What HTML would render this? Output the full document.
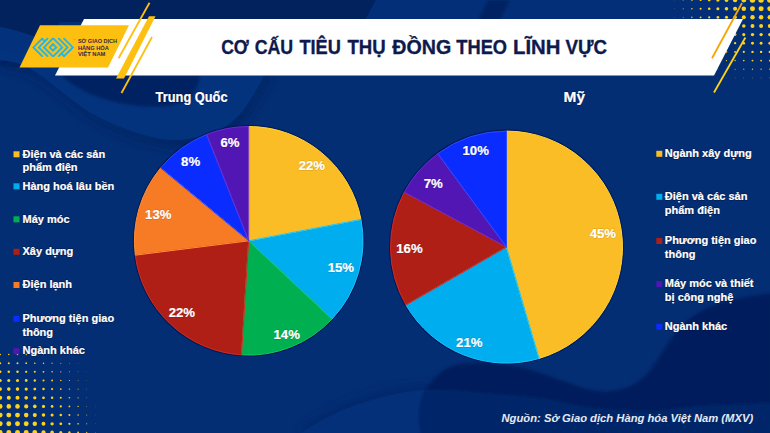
<!DOCTYPE html>
<html><head><meta charset="utf-8"><style>
html,body{margin:0;padding:0;width:770px;height:433px;overflow:hidden;background:#03286B;}
svg{display:block;font-family:"Liberation Sans",sans-serif;}
</style></head><body>
<svg width="770" height="433" viewBox="0 0 770 433">
<defs>
<linearGradient id="bg" x1="0" y1="0" x2="1" y2="1">
<stop offset="0" stop-color="#03245F"/><stop offset="0.5" stop-color="#042C72"/><stop offset="1" stop-color="#021C58"/>
</linearGradient>
</defs>
<rect width="770" height="433" fill="#032E73"/>
<!-- waves -->
<filter id="bl4" x="-20%" y="-20%" width="140%" height="140%"><feGaussianBlur stdDeviation="5"/></filter>
<filter id="bl2" x="-20%" y="-20%" width="140%" height="140%"><feGaussianBlur stdDeviation="1.5"/></filter>
<path d="M0,0 H376 C372,8 368,15 364,22 H60 L50,42 C38,38 18,30 0,27 Z" fill="#02225E"/>
<path d="M0,27 C18,30 38,38 50,42 L40,64 C25,61 12,59 0,59 Z" fill="#03317B"/>
<path d="M0,59 C12,59 25,61 40,64 L44,72 C30,68 15,66 0,66 Z" fill="#022466" filter="url(#bl2)"/>
<path d="M3.0,67.0 C6.5,67.8 17.1,68.8 24.0,71.5 C30.9,74.2 37.8,78.4 44.6,83.0 C51.4,87.6 58.1,93.7 65.0,99.0 C71.9,104.3 79.7,110.7 86.0,115.0 C92.3,119.3 97.2,122.0 103.0,125.0 C108.8,128.0 113.7,130.2 121.0,133.0 C128.3,135.8 138.3,139.7 147.0,142.0 C155.7,144.3 164.3,146.6 173.0,147.0 C181.7,147.4 190.3,146.4 199.0,144.5 C207.7,142.6 217.7,139.3 225.0,135.4 C232.3,131.5 238.0,126.2 243.0,121.0 C248.0,115.8 251.0,110.3 255.0,104.0 C259.0,97.7 265.0,86.5 267.0,83.0  L272,76 L264.0,76.0 L252.0,97.0 L240.0,114.0 L222.0,128.4 L196.0,137.5 L170.0,140.0 L144.0,135.0 L118.0,126.0 L100.0,118.0 L83.0,108.0 L62.0,92.0 L41.6,76.0 L21.0,64.5 L0.0,60.0 Z" fill="#01225F" filter="url(#bl4)" opacity="0.9"/>
<path d="M0.0,60.0 C3.5,60.8 14.1,61.8 21.0,64.5 C27.9,67.2 34.8,71.4 41.6,76.0 C48.4,80.6 55.1,86.7 62.0,92.0 C68.9,97.3 76.7,103.7 83.0,108.0 C89.3,112.3 94.2,115.0 100.0,118.0 C105.8,121.0 110.7,123.2 118.0,126.0 C125.3,128.8 135.3,132.7 144.0,135.0 C152.7,137.3 161.3,139.6 170.0,140.0 C178.7,140.4 187.3,139.4 196.0,137.5 C204.7,135.6 214.7,132.3 222.0,128.4 C229.3,124.5 235.0,119.2 240.0,114.0 C245.0,108.8 248.0,103.3 252.0,97.0 C256.0,90.7 262.0,79.5 264.0,76.0  L264,70 L0,50 Z" fill="#04337E"/>
<path d="M60.0,75.0 C62.5,76.8 69.2,82.5 75.0,86.0 C80.8,89.5 86.7,93.0 95.0,96.0 C103.3,99.0 114.8,102.2 125.0,104.0 C135.2,105.8 146.8,107.2 156.0,107.0 C165.2,106.8 173.8,105.2 180.0,103.0 C186.2,100.8 189.8,97.5 193.0,94.0 C196.2,90.5 197.8,85.2 199.0,82.0 C200.2,78.8 199.8,76.2 200.0,75.0  Z" fill="#022462" filter="url(#bl2)"/>
<path d="M376,0 H770 V22 H364 Z" fill="#032F78"/>
<path d="M488,0 L478,20 L500,20 L510,0 Z" fill="#022462" filter="url(#bl2)"/>
<clipPath id="cpblob"><path d="M421.0,433.0 C420.8,429.2 419.2,417.0 420.0,410.0 C420.8,403.0 422.3,397.2 425.6,391.0 C428.9,384.8 434.9,377.3 440.0,373.0 C445.1,368.7 449.2,366.7 456.0,365.0 C462.8,363.3 473.7,363.0 481.0,362.8 C488.3,362.6 492.7,363.1 500.0,364.0 C507.3,364.9 516.7,366.4 525.0,368.5 C533.3,370.6 542.4,373.9 550.0,376.4 C557.6,378.9 563.9,381.4 570.8,383.7 C577.7,386.0 584.7,388.8 591.6,390.0 C598.5,391.2 605.5,391.9 612.4,391.0 C619.3,390.1 627.1,387.7 633.0,384.7 C638.9,381.7 643.5,377.3 647.7,373.0 C651.9,368.7 654.9,363.2 658.0,358.7 C661.1,354.2 663.4,350.4 666.4,346.0 C669.4,341.6 671.7,336.8 676.0,332.0 C680.3,327.2 686.0,321.3 692.0,317.0 C698.0,312.7 704.0,309.2 712.0,306.0 C720.0,302.8 730.0,300.2 740.0,298.0 C750.0,295.8 766.7,293.8 772.0,293.0  L772,433 Z"/></clipPath>
<path d="M300.0,428.0 C305.0,425.2 320.3,415.8 330.0,411.0 C339.7,406.2 346.8,402.8 358.0,399.0 C369.2,395.2 384.0,390.8 397.0,388.4 C410.0,386.0 421.0,384.6 436.0,384.5 C451.0,384.4 469.0,386.5 487.0,388.0 C505.0,389.5 527.3,391.3 544.0,393.6 C560.7,395.9 569.3,399.9 587.0,402.0 C604.7,404.1 631.2,406.2 650.0,406.0 C668.8,405.8 679.7,402.3 700.0,401.0 C720.3,399.7 760.0,398.5 772.0,398.0  L772,433 L300,433 Z" fill="#02266A" filter="url(#bl4)"/>
<path d="M300.0,433.0 C305.0,430.2 320.3,420.8 330.0,416.0 C339.7,411.2 346.8,407.8 358.0,404.0 C369.2,400.2 384.0,395.8 397.0,393.4 C410.0,391.0 421.0,389.6 436.0,389.5 C451.0,389.4 469.0,391.5 487.0,393.0 C505.0,394.5 527.3,396.3 544.0,398.6 C560.7,400.9 569.3,404.9 587.0,407.0 C604.7,409.1 631.2,411.2 650.0,411.0 C668.8,410.8 679.7,407.3 700.0,406.0 C720.3,404.7 760.0,403.5 772.0,403.0  L772,433 L300,433 Z" fill="#04307A"/>
<path d="M421.0,433.0 C420.8,429.2 419.2,417.0 420.0,410.0 C420.8,403.0 422.3,397.2 425.6,391.0 C428.9,384.8 434.9,377.3 440.0,373.0 C445.1,368.7 449.2,366.7 456.0,365.0 C462.8,363.3 473.7,363.0 481.0,362.8 C488.3,362.6 492.7,363.1 500.0,364.0 C507.3,364.9 516.7,366.4 525.0,368.5 C533.3,370.6 542.4,373.9 550.0,376.4 C557.6,378.9 563.9,381.4 570.8,383.7 C577.7,386.0 584.7,388.8 591.6,390.0 C598.5,391.2 605.5,391.9 612.4,391.0 C619.3,390.1 627.1,387.7 633.0,384.7 C638.9,381.7 643.5,377.3 647.7,373.0 C651.9,368.7 654.9,363.2 658.0,358.7 C661.1,354.2 663.4,350.4 666.4,346.0 C669.4,341.6 671.7,336.8 676.0,332.0 C680.3,327.2 686.0,321.3 692.0,317.0 C698.0,312.7 704.0,309.2 712.0,306.0 C720.0,302.8 730.0,300.2 740.0,298.0 C750.0,295.8 766.7,293.8 772.0,293.0  L772,433 Z" fill="#021F5C" filter="url(#bl2)"/>
<g clip-path="url(#cpblob)"><path d="M300.0,433.0 C305.0,430.2 320.3,420.8 330.0,416.0 C339.7,411.2 346.8,407.8 358.0,404.0 C369.2,400.2 384.0,395.8 397.0,393.4 C410.0,391.0 421.0,389.6 436.0,389.5 C451.0,389.4 469.0,391.5 487.0,393.0 C505.0,394.5 527.3,396.3 544.0,398.6 C560.7,400.9 569.3,404.9 587.0,407.0 C604.7,409.1 631.2,411.2 650.0,411.0 C668.8,410.8 679.7,407.3 700.0,406.0 C720.3,404.7 760.0,403.5 772.0,403.0  L772,433 L300,433 Z" fill="#032769" filter="url(#bl2)"/></g>
<circle cx="674.6" cy="0.0" r="0.30" fill="#FFD21A" fill-opacity="0.75"/>
<circle cx="674.6" cy="8.7" r="0.27" fill="#FFD21A" fill-opacity="0.73"/>
<circle cx="674.6" cy="17.3" r="0.24" fill="#FFD21A" fill-opacity="0.71"/>
<circle cx="683.2" cy="0.0" r="0.58" fill="#FFD21A" fill-opacity="0.93"/>
<circle cx="683.2" cy="8.7" r="0.52" fill="#FFD21A" fill-opacity="0.90"/>
<circle cx="683.2" cy="17.3" r="0.47" fill="#FFD21A" fill-opacity="0.86"/>
<circle cx="683.2" cy="26.0" r="0.41" fill="#FFD21A" fill-opacity="0.82"/>
<circle cx="683.2" cy="34.6" r="0.36" fill="#FFD21A" fill-opacity="0.79"/>
<circle cx="683.2" cy="43.2" r="0.30" fill="#FFD21A" fill-opacity="0.75"/>
<circle cx="683.2" cy="51.9" r="0.25" fill="#FFD21A" fill-opacity="0.71"/>
<circle cx="691.9" cy="0.0" r="0.85" fill="#FFD21A" fill-opacity="1.00"/>
<circle cx="691.9" cy="8.7" r="0.77" fill="#FFD21A" fill-opacity="1.00"/>
<circle cx="691.9" cy="17.3" r="0.69" fill="#FFD21A" fill-opacity="1.00"/>
<circle cx="691.9" cy="26.0" r="0.61" fill="#FFD21A" fill-opacity="0.95"/>
<circle cx="691.9" cy="34.6" r="0.53" fill="#FFD21A" fill-opacity="0.90"/>
<circle cx="691.9" cy="43.2" r="0.45" fill="#FFD21A" fill-opacity="0.85"/>
<circle cx="691.9" cy="51.9" r="0.36" fill="#FFD21A" fill-opacity="0.79"/>
<circle cx="691.9" cy="60.6" r="0.28" fill="#FFD21A" fill-opacity="0.74"/>
<circle cx="700.6" cy="0.0" r="1.12" fill="#FFD21A" fill-opacity="1.00"/>
<circle cx="700.6" cy="8.7" r="1.02" fill="#FFD21A" fill-opacity="1.00"/>
<circle cx="700.6" cy="17.3" r="0.91" fill="#FFD21A" fill-opacity="1.00"/>
<circle cx="700.6" cy="26.0" r="0.80" fill="#FFD21A" fill-opacity="1.00"/>
<circle cx="700.6" cy="34.6" r="0.70" fill="#FFD21A" fill-opacity="1.00"/>
<circle cx="700.6" cy="43.2" r="0.59" fill="#FFD21A" fill-opacity="0.94"/>
<circle cx="700.6" cy="51.9" r="0.48" fill="#FFD21A" fill-opacity="0.87"/>
<circle cx="700.6" cy="60.6" r="0.37" fill="#FFD21A" fill-opacity="0.80"/>
<circle cx="700.6" cy="69.2" r="0.27" fill="#FFD21A" fill-opacity="0.73"/>
<circle cx="709.2" cy="0.0" r="1.40" fill="#FFD21A" fill-opacity="1.00"/>
<circle cx="709.2" cy="8.7" r="1.26" fill="#FFD21A" fill-opacity="1.00"/>
<circle cx="709.2" cy="17.3" r="1.13" fill="#FFD21A" fill-opacity="1.00"/>
<circle cx="709.2" cy="26.0" r="1.00" fill="#FFD21A" fill-opacity="1.00"/>
<circle cx="709.2" cy="34.6" r="0.86" fill="#FFD21A" fill-opacity="1.00"/>
<circle cx="709.2" cy="43.2" r="0.73" fill="#FFD21A" fill-opacity="1.00"/>
<circle cx="709.2" cy="51.9" r="0.60" fill="#FFD21A" fill-opacity="0.95"/>
<circle cx="709.2" cy="60.6" r="0.47" fill="#FFD21A" fill-opacity="0.86"/>
<circle cx="709.2" cy="69.2" r="0.33" fill="#FFD21A" fill-opacity="0.77"/>
<circle cx="717.9" cy="0.0" r="1.67" fill="#FFD21A" fill-opacity="1.00"/>
<circle cx="717.9" cy="8.7" r="1.51" fill="#FFD21A" fill-opacity="1.00"/>
<circle cx="717.9" cy="17.3" r="1.35" fill="#FFD21A" fill-opacity="1.00"/>
<circle cx="717.9" cy="26.0" r="1.19" fill="#FFD21A" fill-opacity="1.00"/>
<circle cx="717.9" cy="34.6" r="1.03" fill="#FFD21A" fill-opacity="1.00"/>
<circle cx="717.9" cy="43.2" r="0.88" fill="#FFD21A" fill-opacity="1.00"/>
<circle cx="717.9" cy="51.9" r="0.72" fill="#FFD21A" fill-opacity="1.00"/>
<circle cx="717.9" cy="60.6" r="0.56" fill="#FFD21A" fill-opacity="0.92"/>
<circle cx="717.9" cy="69.2" r="0.40" fill="#FFD21A" fill-opacity="0.82"/>
<circle cx="717.9" cy="77.9" r="0.24" fill="#FFD21A" fill-opacity="0.71"/>
<circle cx="726.5" cy="0.0" r="1.94" fill="#FFD21A" fill-opacity="1.00"/>
<circle cx="726.5" cy="8.7" r="1.76" fill="#FFD21A" fill-opacity="1.00"/>
<circle cx="726.5" cy="17.3" r="1.57" fill="#FFD21A" fill-opacity="1.00"/>
<circle cx="726.5" cy="26.0" r="1.39" fill="#FFD21A" fill-opacity="1.00"/>
<circle cx="726.5" cy="34.6" r="1.20" fill="#FFD21A" fill-opacity="1.00"/>
<circle cx="726.5" cy="43.2" r="1.02" fill="#FFD21A" fill-opacity="1.00"/>
<circle cx="726.5" cy="51.9" r="0.83" fill="#FFD21A" fill-opacity="1.00"/>
<circle cx="726.5" cy="60.6" r="0.65" fill="#FFD21A" fill-opacity="0.98"/>
<circle cx="726.5" cy="69.2" r="0.46" fill="#FFD21A" fill-opacity="0.86"/>
<circle cx="726.5" cy="77.9" r="0.28" fill="#FFD21A" fill-opacity="0.74"/>
<circle cx="735.1" cy="0.0" r="2.22" fill="#FFD21A" fill-opacity="1.00"/>
<circle cx="735.1" cy="8.7" r="2.01" fill="#FFD21A" fill-opacity="1.00"/>
<circle cx="735.1" cy="17.3" r="1.80" fill="#FFD21A" fill-opacity="1.00"/>
<circle cx="735.1" cy="26.0" r="1.58" fill="#FFD21A" fill-opacity="1.00"/>
<circle cx="735.1" cy="34.6" r="1.37" fill="#FFD21A" fill-opacity="1.00"/>
<circle cx="735.1" cy="43.2" r="1.16" fill="#FFD21A" fill-opacity="1.00"/>
<circle cx="735.1" cy="51.9" r="0.95" fill="#FFD21A" fill-opacity="1.00"/>
<circle cx="735.1" cy="60.6" r="0.74" fill="#FFD21A" fill-opacity="1.00"/>
<circle cx="735.1" cy="69.2" r="0.53" fill="#FFD21A" fill-opacity="0.90"/>
<circle cx="735.1" cy="77.9" r="0.32" fill="#FFD21A" fill-opacity="0.76"/>
<circle cx="743.8" cy="0.0" r="2.49" fill="#FFD21A" fill-opacity="1.00"/>
<circle cx="743.8" cy="8.7" r="2.25" fill="#FFD21A" fill-opacity="1.00"/>
<circle cx="743.8" cy="17.3" r="2.02" fill="#FFD21A" fill-opacity="1.00"/>
<circle cx="743.8" cy="26.0" r="1.78" fill="#FFD21A" fill-opacity="1.00"/>
<circle cx="743.8" cy="34.6" r="1.54" fill="#FFD21A" fill-opacity="1.00"/>
<circle cx="743.8" cy="43.2" r="1.31" fill="#FFD21A" fill-opacity="1.00"/>
<circle cx="743.8" cy="51.9" r="1.07" fill="#FFD21A" fill-opacity="1.00"/>
<circle cx="743.8" cy="60.6" r="0.83" fill="#FFD21A" fill-opacity="1.00"/>
<circle cx="743.8" cy="69.2" r="0.59" fill="#FFD21A" fill-opacity="0.95"/>
<circle cx="743.8" cy="77.9" r="0.36" fill="#FFD21A" fill-opacity="0.79"/>
<circle cx="752.5" cy="0.0" r="2.75" fill="#FFD21A" fill-opacity="1.00"/>
<circle cx="752.5" cy="8.7" r="2.49" fill="#FFD21A" fill-opacity="1.00"/>
<circle cx="752.5" cy="17.3" r="2.23" fill="#FFD21A" fill-opacity="1.00"/>
<circle cx="752.5" cy="26.0" r="1.97" fill="#FFD21A" fill-opacity="1.00"/>
<circle cx="752.5" cy="34.6" r="1.70" fill="#FFD21A" fill-opacity="1.00"/>
<circle cx="752.5" cy="43.2" r="1.44" fill="#FFD21A" fill-opacity="1.00"/>
<circle cx="752.5" cy="51.9" r="1.18" fill="#FFD21A" fill-opacity="1.00"/>
<circle cx="752.5" cy="60.6" r="0.92" fill="#FFD21A" fill-opacity="1.00"/>
<circle cx="752.5" cy="69.2" r="0.66" fill="#FFD21A" fill-opacity="0.99"/>
<circle cx="752.5" cy="77.9" r="0.40" fill="#FFD21A" fill-opacity="0.81"/>
<circle cx="761.1" cy="0.0" r="2.75" fill="#FFD21A" fill-opacity="1.00"/>
<circle cx="761.1" cy="8.7" r="2.49" fill="#FFD21A" fill-opacity="1.00"/>
<circle cx="761.1" cy="17.3" r="2.23" fill="#FFD21A" fill-opacity="1.00"/>
<circle cx="761.1" cy="26.0" r="1.97" fill="#FFD21A" fill-opacity="1.00"/>
<circle cx="761.1" cy="34.6" r="1.70" fill="#FFD21A" fill-opacity="1.00"/>
<circle cx="761.1" cy="43.2" r="1.44" fill="#FFD21A" fill-opacity="1.00"/>
<circle cx="761.1" cy="51.9" r="1.18" fill="#FFD21A" fill-opacity="1.00"/>
<circle cx="761.1" cy="60.6" r="0.92" fill="#FFD21A" fill-opacity="1.00"/>
<circle cx="761.1" cy="69.2" r="0.66" fill="#FFD21A" fill-opacity="0.99"/>
<circle cx="761.1" cy="77.9" r="0.40" fill="#FFD21A" fill-opacity="0.81"/>
<circle cx="769.8" cy="0.0" r="2.75" fill="#FFD21A" fill-opacity="1.00"/>
<circle cx="769.8" cy="8.7" r="2.49" fill="#FFD21A" fill-opacity="1.00"/>
<circle cx="769.8" cy="17.3" r="2.23" fill="#FFD21A" fill-opacity="1.00"/>
<circle cx="769.8" cy="26.0" r="1.97" fill="#FFD21A" fill-opacity="1.00"/>
<circle cx="769.8" cy="34.6" r="1.70" fill="#FFD21A" fill-opacity="1.00"/>
<circle cx="769.8" cy="43.2" r="1.44" fill="#FFD21A" fill-opacity="1.00"/>
<circle cx="769.8" cy="51.9" r="1.18" fill="#FFD21A" fill-opacity="1.00"/>
<circle cx="769.8" cy="60.6" r="0.92" fill="#FFD21A" fill-opacity="1.00"/>
<circle cx="769.8" cy="69.2" r="0.66" fill="#FFD21A" fill-opacity="0.99"/>
<circle cx="769.8" cy="77.9" r="0.40" fill="#FFD21A" fill-opacity="0.81"/>
<circle cx="778.4" cy="0.0" r="2.75" fill="#FFD21A" fill-opacity="1.00"/>
<circle cx="778.4" cy="8.7" r="2.49" fill="#FFD21A" fill-opacity="1.00"/>
<circle cx="778.4" cy="17.3" r="2.23" fill="#FFD21A" fill-opacity="1.00"/>
<circle cx="778.4" cy="26.0" r="1.97" fill="#FFD21A" fill-opacity="1.00"/>
<circle cx="778.4" cy="34.6" r="1.70" fill="#FFD21A" fill-opacity="1.00"/>
<circle cx="778.4" cy="43.2" r="1.44" fill="#FFD21A" fill-opacity="1.00"/>
<circle cx="778.4" cy="51.9" r="1.18" fill="#FFD21A" fill-opacity="1.00"/>
<circle cx="778.4" cy="60.6" r="0.92" fill="#FFD21A" fill-opacity="1.00"/>
<circle cx="778.4" cy="69.2" r="0.66" fill="#FFD21A" fill-opacity="0.99"/>
<circle cx="778.4" cy="77.9" r="0.40" fill="#FFD21A" fill-opacity="0.81"/>
<circle cx="787.1" cy="0.0" r="2.75" fill="#FFD21A" fill-opacity="1.00"/>
<circle cx="787.1" cy="8.7" r="2.49" fill="#FFD21A" fill-opacity="1.00"/>
<circle cx="787.1" cy="17.3" r="2.23" fill="#FFD21A" fill-opacity="1.00"/>
<circle cx="787.1" cy="26.0" r="1.97" fill="#FFD21A" fill-opacity="1.00"/>
<circle cx="787.1" cy="34.6" r="1.70" fill="#FFD21A" fill-opacity="1.00"/>
<circle cx="787.1" cy="43.2" r="1.44" fill="#FFD21A" fill-opacity="1.00"/>
<circle cx="787.1" cy="51.9" r="1.18" fill="#FFD21A" fill-opacity="1.00"/>
<circle cx="787.1" cy="60.6" r="0.92" fill="#FFD21A" fill-opacity="1.00"/>
<circle cx="787.1" cy="69.2" r="0.66" fill="#FFD21A" fill-opacity="0.99"/>
<circle cx="787.1" cy="77.9" r="0.40" fill="#FFD21A" fill-opacity="0.81"/>
<circle cx="0.2" cy="432.4" r="2.45" fill="#FFD21A" fill-opacity="1.00"/>
<circle cx="0.2" cy="423.8" r="2.45" fill="#FFD21A" fill-opacity="1.00"/>
<circle cx="0.2" cy="415.1" r="2.45" fill="#FFD21A" fill-opacity="1.00"/>
<circle cx="0.2" cy="406.4" r="2.30" fill="#FFD21A" fill-opacity="1.00"/>
<circle cx="0.2" cy="397.8" r="2.04" fill="#FFD21A" fill-opacity="1.00"/>
<circle cx="0.2" cy="389.1" r="1.79" fill="#FFD21A" fill-opacity="1.00"/>
<circle cx="0.2" cy="380.5" r="1.54" fill="#FFD21A" fill-opacity="1.00"/>
<circle cx="0.2" cy="371.8" r="1.28" fill="#FFD21A" fill-opacity="1.00"/>
<circle cx="0.2" cy="363.2" r="1.03" fill="#FFD21A" fill-opacity="1.00"/>
<circle cx="0.2" cy="354.5" r="0.78" fill="#FFD21A" fill-opacity="1.00"/>
<circle cx="8.8" cy="432.4" r="2.45" fill="#FFD21A" fill-opacity="1.00"/>
<circle cx="8.8" cy="423.8" r="2.45" fill="#FFD21A" fill-opacity="1.00"/>
<circle cx="8.8" cy="415.1" r="2.45" fill="#FFD21A" fill-opacity="1.00"/>
<circle cx="8.8" cy="406.4" r="2.30" fill="#FFD21A" fill-opacity="1.00"/>
<circle cx="8.8" cy="397.8" r="2.04" fill="#FFD21A" fill-opacity="1.00"/>
<circle cx="8.8" cy="389.1" r="1.79" fill="#FFD21A" fill-opacity="1.00"/>
<circle cx="8.8" cy="380.5" r="1.54" fill="#FFD21A" fill-opacity="1.00"/>
<circle cx="8.8" cy="371.8" r="1.28" fill="#FFD21A" fill-opacity="1.00"/>
<circle cx="8.8" cy="363.2" r="1.03" fill="#FFD21A" fill-opacity="1.00"/>
<circle cx="8.8" cy="354.5" r="0.78" fill="#FFD21A" fill-opacity="1.00"/>
<circle cx="17.5" cy="432.4" r="2.45" fill="#FFD21A" fill-opacity="1.00"/>
<circle cx="17.5" cy="423.8" r="2.45" fill="#FFD21A" fill-opacity="1.00"/>
<circle cx="17.5" cy="415.1" r="2.45" fill="#FFD21A" fill-opacity="1.00"/>
<circle cx="17.5" cy="406.4" r="2.28" fill="#FFD21A" fill-opacity="1.00"/>
<circle cx="17.5" cy="397.8" r="2.03" fill="#FFD21A" fill-opacity="1.00"/>
<circle cx="17.5" cy="389.1" r="1.78" fill="#FFD21A" fill-opacity="1.00"/>
<circle cx="17.5" cy="380.5" r="1.53" fill="#FFD21A" fill-opacity="1.00"/>
<circle cx="17.5" cy="371.8" r="1.28" fill="#FFD21A" fill-opacity="1.00"/>
<circle cx="17.5" cy="363.2" r="1.02" fill="#FFD21A" fill-opacity="1.00"/>
<circle cx="17.5" cy="354.5" r="0.77" fill="#FFD21A" fill-opacity="1.00"/>
<circle cx="26.2" cy="432.4" r="2.45" fill="#FFD21A" fill-opacity="1.00"/>
<circle cx="26.2" cy="423.8" r="2.45" fill="#FFD21A" fill-opacity="1.00"/>
<circle cx="26.2" cy="415.1" r="2.28" fill="#FFD21A" fill-opacity="1.00"/>
<circle cx="26.2" cy="406.4" r="2.05" fill="#FFD21A" fill-opacity="1.00"/>
<circle cx="26.2" cy="397.8" r="1.83" fill="#FFD21A" fill-opacity="1.00"/>
<circle cx="26.2" cy="389.1" r="1.60" fill="#FFD21A" fill-opacity="1.00"/>
<circle cx="26.2" cy="380.5" r="1.38" fill="#FFD21A" fill-opacity="1.00"/>
<circle cx="26.2" cy="371.8" r="1.15" fill="#FFD21A" fill-opacity="1.00"/>
<circle cx="26.2" cy="363.2" r="0.92" fill="#FFD21A" fill-opacity="1.00"/>
<circle cx="26.2" cy="354.5" r="0.70" fill="#FFD21A" fill-opacity="1.00"/>
<circle cx="34.8" cy="432.4" r="2.43" fill="#FFD21A" fill-opacity="1.00"/>
<circle cx="34.8" cy="423.8" r="2.23" fill="#FFD21A" fill-opacity="1.00"/>
<circle cx="34.8" cy="415.1" r="2.03" fill="#FFD21A" fill-opacity="1.00"/>
<circle cx="34.8" cy="406.4" r="1.83" fill="#FFD21A" fill-opacity="1.00"/>
<circle cx="34.8" cy="397.8" r="1.62" fill="#FFD21A" fill-opacity="1.00"/>
<circle cx="34.8" cy="389.1" r="1.42" fill="#FFD21A" fill-opacity="1.00"/>
<circle cx="34.8" cy="380.5" r="1.22" fill="#FFD21A" fill-opacity="1.00"/>
<circle cx="34.8" cy="371.8" r="1.02" fill="#FFD21A" fill-opacity="1.00"/>
<circle cx="34.8" cy="363.2" r="0.82" fill="#FFD21A" fill-opacity="1.00"/>
<circle cx="34.8" cy="354.5" r="0.62" fill="#FFD21A" fill-opacity="0.96"/>
<circle cx="43.5" cy="432.4" r="2.13" fill="#FFD21A" fill-opacity="1.00"/>
<circle cx="43.5" cy="423.8" r="1.95" fill="#FFD21A" fill-opacity="1.00"/>
<circle cx="43.5" cy="415.1" r="1.77" fill="#FFD21A" fill-opacity="1.00"/>
<circle cx="43.5" cy="406.4" r="1.60" fill="#FFD21A" fill-opacity="1.00"/>
<circle cx="43.5" cy="397.8" r="1.42" fill="#FFD21A" fill-opacity="1.00"/>
<circle cx="43.5" cy="389.1" r="1.25" fill="#FFD21A" fill-opacity="1.00"/>
<circle cx="43.5" cy="380.5" r="1.07" fill="#FFD21A" fill-opacity="1.00"/>
<circle cx="43.5" cy="371.8" r="0.89" fill="#FFD21A" fill-opacity="1.00"/>
<circle cx="43.5" cy="363.2" r="0.72" fill="#FFD21A" fill-opacity="1.00"/>
<circle cx="43.5" cy="354.5" r="0.54" fill="#FFD21A" fill-opacity="0.91"/>
<circle cx="52.1" cy="432.4" r="1.82" fill="#FFD21A" fill-opacity="1.00"/>
<circle cx="52.1" cy="423.8" r="1.67" fill="#FFD21A" fill-opacity="1.00"/>
<circle cx="52.1" cy="415.1" r="1.52" fill="#FFD21A" fill-opacity="1.00"/>
<circle cx="52.1" cy="406.4" r="1.37" fill="#FFD21A" fill-opacity="1.00"/>
<circle cx="52.1" cy="397.8" r="1.22" fill="#FFD21A" fill-opacity="1.00"/>
<circle cx="52.1" cy="389.1" r="1.07" fill="#FFD21A" fill-opacity="1.00"/>
<circle cx="52.1" cy="380.5" r="0.92" fill="#FFD21A" fill-opacity="1.00"/>
<circle cx="52.1" cy="371.8" r="0.77" fill="#FFD21A" fill-opacity="1.00"/>
<circle cx="52.1" cy="363.2" r="0.61" fill="#FFD21A" fill-opacity="0.96"/>
<circle cx="52.1" cy="354.5" r="0.46" fill="#FFD21A" fill-opacity="0.86"/>
<circle cx="60.8" cy="432.4" r="1.52" fill="#FFD21A" fill-opacity="1.00"/>
<circle cx="60.8" cy="423.8" r="1.39" fill="#FFD21A" fill-opacity="1.00"/>
<circle cx="60.8" cy="415.1" r="1.27" fill="#FFD21A" fill-opacity="1.00"/>
<circle cx="60.8" cy="406.4" r="1.14" fill="#FFD21A" fill-opacity="1.00"/>
<circle cx="60.8" cy="397.8" r="1.02" fill="#FFD21A" fill-opacity="1.00"/>
<circle cx="60.8" cy="389.1" r="0.89" fill="#FFD21A" fill-opacity="1.00"/>
<circle cx="60.8" cy="380.5" r="0.76" fill="#FFD21A" fill-opacity="1.00"/>
<circle cx="60.8" cy="371.8" r="0.64" fill="#FFD21A" fill-opacity="0.98"/>
<circle cx="60.8" cy="363.2" r="0.51" fill="#FFD21A" fill-opacity="0.89"/>
<circle cx="60.8" cy="354.5" r="0.39" fill="#FFD21A" fill-opacity="0.81"/>
<circle cx="69.4" cy="432.4" r="1.21" fill="#FFD21A" fill-opacity="1.00"/>
<circle cx="69.4" cy="423.8" r="1.11" fill="#FFD21A" fill-opacity="1.00"/>
<circle cx="69.4" cy="415.1" r="1.01" fill="#FFD21A" fill-opacity="1.00"/>
<circle cx="69.4" cy="406.4" r="0.91" fill="#FFD21A" fill-opacity="1.00"/>
<circle cx="69.4" cy="397.8" r="0.81" fill="#FFD21A" fill-opacity="1.00"/>
<circle cx="69.4" cy="389.1" r="0.71" fill="#FFD21A" fill-opacity="1.00"/>
<circle cx="69.4" cy="380.5" r="0.61" fill="#FFD21A" fill-opacity="0.96"/>
<circle cx="69.4" cy="371.8" r="0.51" fill="#FFD21A" fill-opacity="0.89"/>
<circle cx="69.4" cy="363.2" r="0.41" fill="#FFD21A" fill-opacity="0.82"/>
<circle cx="69.4" cy="354.5" r="0.31" fill="#FFD21A" fill-opacity="0.76"/>
<circle cx="78.1" cy="432.4" r="0.91" fill="#FFD21A" fill-opacity="1.00"/>
<circle cx="78.1" cy="423.8" r="0.83" fill="#FFD21A" fill-opacity="1.00"/>
<circle cx="78.1" cy="415.1" r="0.76" fill="#FFD21A" fill-opacity="1.00"/>
<circle cx="78.1" cy="406.4" r="0.68" fill="#FFD21A" fill-opacity="1.00"/>
<circle cx="78.1" cy="397.8" r="0.61" fill="#FFD21A" fill-opacity="0.96"/>
<circle cx="78.1" cy="389.1" r="0.53" fill="#FFD21A" fill-opacity="0.91"/>
<circle cx="78.1" cy="380.5" r="0.46" fill="#FFD21A" fill-opacity="0.86"/>
<circle cx="78.1" cy="371.8" r="0.38" fill="#FFD21A" fill-opacity="0.81"/>
<circle cx="78.1" cy="363.2" r="0.31" fill="#FFD21A" fill-opacity="0.75"/>
<circle cx="78.1" cy="354.5" r="0.23" fill="#FFD21A" fill-opacity="0.70"/>
<circle cx="86.7" cy="432.4" r="0.61" fill="#FFD21A" fill-opacity="0.95"/>
<circle cx="86.7" cy="423.8" r="0.56" fill="#FFD21A" fill-opacity="0.92"/>
<circle cx="86.7" cy="415.1" r="0.51" fill="#FFD21A" fill-opacity="0.89"/>
<circle cx="86.7" cy="406.4" r="0.46" fill="#FFD21A" fill-opacity="0.85"/>
<circle cx="86.7" cy="397.8" r="0.41" fill="#FFD21A" fill-opacity="0.82"/>
<circle cx="86.7" cy="389.1" r="0.36" fill="#FFD21A" fill-opacity="0.79"/>
<circle cx="86.7" cy="380.5" r="0.31" fill="#FFD21A" fill-opacity="0.75"/>
<circle cx="86.7" cy="371.8" r="0.25" fill="#FFD21A" fill-opacity="0.72"/>
<circle cx="95.4" cy="432.4" r="0.30" fill="#FFD21A" fill-opacity="0.75"/>
<circle cx="95.4" cy="423.8" r="0.28" fill="#FFD21A" fill-opacity="0.73"/>
<circle cx="95.4" cy="415.1" r="0.25" fill="#FFD21A" fill-opacity="0.72"/>
<circle cx="95.4" cy="406.4" r="0.23" fill="#FFD21A" fill-opacity="0.70"/>
<!-- header -->
<polygon points="84,19 743,19 714,75.5 55,75.5" fill="#FFFFFF"/>
<polygon points="40,25.3 129,25.3 108,67.6 19.5,67.6" fill="#FDC010"/>
<line x1="149.5" y1="2.8" x2="118.6" y2="58.2" stroke="#FDC010" stroke-width="1.8"/>
<polygon points="149,16.3 155.5,16.3 124,78.6 116,78.6" fill="#FDC010"/>
<line x1="152" y1="37" x2="121.5" y2="93" stroke="#FDC010" stroke-width="1.8"/>
<line x1="742" y1="3" x2="712" y2="58.2" stroke="#F6A500" stroke-width="1.8"/>
<line x1="745.4" y1="37.5" x2="714" y2="92.5" stroke="#FFD21A" stroke-width="1.8"/>
<g fill="none" stroke="#1FB6F0" stroke-width="1.9" stroke-linejoin="miter" stroke-linecap="round">
<polyline points="42.10,38.70 33.40,47.40 42.10,56.10"/>
<polyline points="47.50,38.70 38.80,47.40 47.50,56.10"/>
<polyline points="52.70,38.70 44.00,47.40 52.70,56.10"/>
<polyline points="64.10,38.70 72.80,47.40 64.10,56.10"/>
<polyline points="58.80,38.70 67.50,47.40 58.80,56.10"/>
<polyline points="53.50,38.70 62.20,47.40 53.50,56.10"/>
<polyline points="42.10,38.70 44.80,41.40"/>
<polyline points="64.10,56.10 61.40,53.40"/>
<polyline points="49.65,47.40 52.95,44.10 56.25,47.40 52.95,50.70 49.65,47.40"/>
</g>
<rect x="74" y="39" width="1.6" height="0.9" fill="#7FB8A0"/>
<g fill="#33284A" font-size="5.4" font-weight="bold" font-family="Liberation Sans,sans-serif">
<text x="77.9" y="42.9" textLength="39.2" lengthAdjust="spacingAndGlyphs">SỞ GIAO DỊCH</text>
<text x="77.9" y="49.8" textLength="31" lengthAdjust="spacingAndGlyphs">HÀNG HÓA</text>
<text x="77.9" y="55.9" textLength="27.5" lengthAdjust="spacingAndGlyphs">VIỆT NAM</text>
</g>
<text transform="translate(221.15,54.0) scale(0.8380,1)" x="0" y="0" font-size="21" fill="#0E1A4E" font-weight="bold" stroke="#0E1A4E" stroke-width="0.35">CƠ</text>
<text transform="translate(254.64,54.0) scale(0.8472,1)" x="0" y="0" font-size="21" fill="#0E1A4E" font-weight="bold" stroke="#0E1A4E" stroke-width="0.35">CẤU</text>
<text transform="translate(299.43,54.0) scale(0.8661,1)" x="0" y="0" font-size="21" fill="#0E1A4E" font-weight="bold" stroke="#0E1A4E" stroke-width="0.35">TIÊU</text>
<text transform="translate(347.52,54.0) scale(0.8846,1)" x="0" y="0" font-size="21" fill="#0E1A4E" font-weight="bold" stroke="#0E1A4E" stroke-width="0.35">THỤ</text>
<text transform="translate(392.31,54.0) scale(0.9366,1)" x="0" y="0" font-size="21" fill="#0E1A4E" font-weight="bold" stroke="#0E1A4E" stroke-width="0.35">ĐỒNG</text>
<text transform="translate(456.33,54.0) scale(0.8706,1)" x="0" y="0" font-size="21" fill="#0E1A4E" font-weight="bold" stroke="#0E1A4E" stroke-width="0.35">THEO</text>
<text transform="translate(513.05,54.0) scale(0.9674,1)" x="0" y="0" font-size="21" fill="#0E1A4E" font-weight="bold" stroke="#0E1A4E" stroke-width="0.35">LĨNH</text>
<text transform="translate(565.42,54.0) scale(0.8928,1)" x="0" y="0" font-size="21" fill="#0E1A4E" font-weight="bold" stroke="#0E1A4E" stroke-width="0.35">VỰC</text>
<text transform="translate(155.6,101.8) scale(0.93,1)" x="0" y="0" font-size="13.8" text-anchor="start" fill="none" stroke="#00103F" stroke-opacity="0.55" stroke-width="1.4" stroke-linejoin="round" font-weight="bold" font-style="normal">Trung Quốc</text><text transform="translate(155.6,101.8) scale(0.93,1)" x="0" y="0" font-size="13.8" text-anchor="start" fill="#fff" font-weight="bold" font-style="normal" stroke="#fff" stroke-width="0.2">Trung Quốc</text>
<text transform="translate(563.6,101.8) scale(1.12,1)" x="0" y="0" font-size="13.8" text-anchor="start" fill="none" stroke="#00103F" stroke-opacity="0.55" stroke-width="1.4" stroke-linejoin="round" font-weight="bold" font-style="normal">Mỹ</text><text transform="translate(563.6,101.8) scale(1.12,1)" x="0" y="0" font-size="13.8" text-anchor="start" fill="#fff" font-weight="bold" font-style="normal" stroke="#fff" stroke-width="0.2">Mỹ</text>
<!-- pies -->
<circle cx="248.7" cy="240.8" r="115.2" fill="none" stroke="#00155A" stroke-width="1.2" stroke-opacity="0.9"/>
<path d="M248.70,240.80 L248.70,126.50 A114.3,114.3 0 0 1 360.98,219.38 Z" fill="#FBBD26"/>
<path d="M248.70,240.80 L360.98,219.38 A114.3,114.3 0 0 1 332.02,319.04 Z" fill="#00AEEF"/>
<path d="M248.70,240.80 L332.02,319.04 A114.3,114.3 0 0 1 241.52,354.87 Z" fill="#00AF50"/>
<path d="M248.70,240.80 L241.52,354.87 A114.3,114.3 0 0 1 135.30,255.13 Z" fill="#B01F16"/>
<path d="M248.70,240.80 L135.30,255.13 A114.3,114.3 0 0 1 160.63,167.94 Z" fill="#F77B24"/>
<path d="M248.70,240.80 L160.63,167.94 A114.3,114.3 0 0 1 206.62,134.53 Z" fill="#0A2CFF"/>
<path d="M248.70,240.80 L206.62,134.53 A114.3,114.3 0 0 1 248.70,126.50 Z" fill="#5116B4"/>
<path d="M248.70,240.80 L248.70,126.50 A114.3,114.3 0 0 1 360.98,219.38 Z" fill="none" stroke="#FFD52E" stroke-width="1.0" stroke-opacity="1"/>
<path d="M248.70,240.80 L360.98,219.38 A114.3,114.3 0 0 1 332.02,319.04 Z" fill="none" stroke="#1AC4FF" stroke-width="1.0" stroke-opacity="1"/>
<path d="M248.70,240.80 L332.02,319.04 A114.3,114.3 0 0 1 241.52,354.87 Z" fill="none" stroke="#14C862" stroke-width="1.0" stroke-opacity="1"/>
<path d="M248.70,240.80 L241.52,354.87 A114.3,114.3 0 0 1 135.30,255.13 Z" fill="none" stroke="#D42A1C" stroke-width="1.0" stroke-opacity="1"/>
<path d="M248.70,240.80 L135.30,255.13 A114.3,114.3 0 0 1 160.63,167.94 Z" fill="none" stroke="#FF9032" stroke-width="1.0" stroke-opacity="1"/>
<path d="M248.70,240.80 L160.63,167.94 A114.3,114.3 0 0 1 206.62,134.53 Z" fill="none" stroke="#2C4AFF" stroke-width="1.0" stroke-opacity="1"/>
<path d="M248.70,240.80 L206.62,134.53 A114.3,114.3 0 0 1 248.70,126.50 Z" fill="none" stroke="#6A2CD2" stroke-width="1.0" stroke-opacity="1"/>
<circle cx="506.5" cy="247.1" r="116.9" fill="none" stroke="#00155A" stroke-width="1.2" stroke-opacity="0.9"/>
<path d="M506.50,247.10 L506.50,131.10 A116,116 0 0 1 539.18,358.40 Z" fill="#FBBD26"/>
<path d="M506.50,247.10 L539.18,358.40 A116,116 0 0 1 406.04,305.10 Z" fill="#00AEEF"/>
<path d="M506.50,247.10 L406.04,305.10 A116,116 0 0 1 404.25,192.32 Z" fill="#B01F16"/>
<path d="M506.50,247.10 L404.25,192.32 A116,116 0 0 1 437.72,153.69 Z" fill="#5116B4"/>
<path d="M506.50,247.10 L437.72,153.69 A116,116 0 0 1 506.50,131.10 Z" fill="#0A2CFF"/>
<path d="M506.50,247.10 L506.50,131.10 A116,116 0 0 1 539.18,358.40 Z" fill="none" stroke="#FFD52E" stroke-width="1.0" stroke-opacity="1"/>
<path d="M506.50,247.10 L539.18,358.40 A116,116 0 0 1 406.04,305.10 Z" fill="none" stroke="#1AC4FF" stroke-width="1.0" stroke-opacity="1"/>
<path d="M506.50,247.10 L406.04,305.10 A116,116 0 0 1 404.25,192.32 Z" fill="none" stroke="#D42A1C" stroke-width="1.0" stroke-opacity="1"/>
<path d="M506.50,247.10 L404.25,192.32 A116,116 0 0 1 437.72,153.69 Z" fill="none" stroke="#6A2CD2" stroke-width="1.0" stroke-opacity="1"/>
<path d="M506.50,247.10 L437.72,153.69 A116,116 0 0 1 506.50,131.10 Z" fill="none" stroke="#2C4AFF" stroke-width="1.0" stroke-opacity="1"/>
<text transform="translate(298.7,170.2) scale(1.08,1)" x="0" y="0" font-size="12.2" text-anchor="start" fill="none" stroke="#000000" stroke-opacity="0.12" stroke-width="1.4" stroke-linejoin="round" font-weight="bold" font-style="normal">22%</text><text transform="translate(298.7,170.2) scale(1.08,1)" x="0" y="0" font-size="12.2" text-anchor="start" fill="#fff" font-weight="bold" font-style="normal" stroke="#fff" stroke-width="0.2">22%</text>
<text transform="translate(327.7,271.7) scale(1.08,1)" x="0" y="0" font-size="12.2" text-anchor="start" fill="none" stroke="#000000" stroke-opacity="0.12" stroke-width="1.4" stroke-linejoin="round" font-weight="bold" font-style="normal">15%</text><text transform="translate(327.7,271.7) scale(1.08,1)" x="0" y="0" font-size="12.2" text-anchor="start" fill="#fff" font-weight="bold" font-style="normal" stroke="#fff" stroke-width="0.2">15%</text>
<text transform="translate(273.5,339.3) scale(1.08,1)" x="0" y="0" font-size="12.2" text-anchor="start" fill="none" stroke="#000000" stroke-opacity="0.12" stroke-width="1.4" stroke-linejoin="round" font-weight="bold" font-style="normal">14%</text><text transform="translate(273.5,339.3) scale(1.08,1)" x="0" y="0" font-size="12.2" text-anchor="start" fill="#fff" font-weight="bold" font-style="normal" stroke="#fff" stroke-width="0.2">14%</text>
<text transform="translate(168.7,316.5) scale(1.08,1)" x="0" y="0" font-size="12.2" text-anchor="start" fill="none" stroke="#000000" stroke-opacity="0.12" stroke-width="1.4" stroke-linejoin="round" font-weight="bold" font-style="normal">22%</text><text transform="translate(168.7,316.5) scale(1.08,1)" x="0" y="0" font-size="12.2" text-anchor="start" fill="#fff" font-weight="bold" font-style="normal" stroke="#fff" stroke-width="0.2">22%</text>
<text transform="translate(145.1,218.7) scale(1.08,1)" x="0" y="0" font-size="12.2" text-anchor="start" fill="none" stroke="#000000" stroke-opacity="0.12" stroke-width="1.4" stroke-linejoin="round" font-weight="bold" font-style="normal">13%</text><text transform="translate(145.1,218.7) scale(1.08,1)" x="0" y="0" font-size="12.2" text-anchor="start" fill="#fff" font-weight="bold" font-style="normal" stroke="#fff" stroke-width="0.2">13%</text>
<text transform="translate(181.1,165.8) scale(1.08,1)" x="0" y="0" font-size="12.2" text-anchor="start" fill="none" stroke="#000000" stroke-opacity="0.12" stroke-width="1.4" stroke-linejoin="round" font-weight="bold" font-style="normal">8%</text><text transform="translate(181.1,165.8) scale(1.08,1)" x="0" y="0" font-size="12.2" text-anchor="start" fill="#fff" font-weight="bold" font-style="normal" stroke="#fff" stroke-width="0.2">8%</text>
<text transform="translate(220.4,147) scale(1.08,1)" x="0" y="0" font-size="12.2" text-anchor="start" fill="none" stroke="#000000" stroke-opacity="0.12" stroke-width="1.4" stroke-linejoin="round" font-weight="bold" font-style="normal">6%</text><text transform="translate(220.4,147) scale(1.08,1)" x="0" y="0" font-size="12.2" text-anchor="start" fill="#fff" font-weight="bold" font-style="normal" stroke="#fff" stroke-width="0.2">6%</text>
<text transform="translate(589.7,237.6) scale(1.08,1)" x="0" y="0" font-size="12.2" text-anchor="start" fill="none" stroke="#000000" stroke-opacity="0.12" stroke-width="1.4" stroke-linejoin="round" font-weight="bold" font-style="normal">45%</text><text transform="translate(589.7,237.6) scale(1.08,1)" x="0" y="0" font-size="12.2" text-anchor="start" fill="#fff" font-weight="bold" font-style="normal" stroke="#fff" stroke-width="0.2">45%</text>
<text transform="translate(456.1,346.5) scale(1.08,1)" x="0" y="0" font-size="12.2" text-anchor="start" fill="none" stroke="#000000" stroke-opacity="0.12" stroke-width="1.4" stroke-linejoin="round" font-weight="bold" font-style="normal">21%</text><text transform="translate(456.1,346.5) scale(1.08,1)" x="0" y="0" font-size="12.2" text-anchor="start" fill="#fff" font-weight="bold" font-style="normal" stroke="#fff" stroke-width="0.2">21%</text>
<text transform="translate(396.3,253.4) scale(1.08,1)" x="0" y="0" font-size="12.2" text-anchor="start" fill="none" stroke="#000000" stroke-opacity="0.12" stroke-width="1.4" stroke-linejoin="round" font-weight="bold" font-style="normal">16%</text><text transform="translate(396.3,253.4) scale(1.08,1)" x="0" y="0" font-size="12.2" text-anchor="start" fill="#fff" font-weight="bold" font-style="normal" stroke="#fff" stroke-width="0.2">16%</text>
<text transform="translate(423.7,187.6) scale(1.08,1)" x="0" y="0" font-size="12.2" text-anchor="start" fill="none" stroke="#000000" stroke-opacity="0.12" stroke-width="1.4" stroke-linejoin="round" font-weight="bold" font-style="normal">7%</text><text transform="translate(423.7,187.6) scale(1.08,1)" x="0" y="0" font-size="12.2" text-anchor="start" fill="#fff" font-weight="bold" font-style="normal" stroke="#fff" stroke-width="0.2">7%</text>
<text transform="translate(462.5,154.7) scale(1.08,1)" x="0" y="0" font-size="12.2" text-anchor="start" fill="none" stroke="#000000" stroke-opacity="0.12" stroke-width="1.4" stroke-linejoin="round" font-weight="bold" font-style="normal">10%</text><text transform="translate(462.5,154.7) scale(1.08,1)" x="0" y="0" font-size="12.2" text-anchor="start" fill="#fff" font-weight="bold" font-style="normal" stroke="#fff" stroke-width="0.2">10%</text>
<rect x="13.5" y="151.3" width="6" height="6" fill="#FBBD26"/>
<text transform="translate(22.5,157.5) scale(1.05,1)" x="0" y="0" font-size="10.5" text-anchor="start" fill="none" stroke="#00103F" stroke-opacity="0.55" stroke-width="1.4" stroke-linejoin="round" font-weight="bold" font-style="normal">Điện và các sản</text><text transform="translate(22.5,157.5) scale(1.05,1)" x="0" y="0" font-size="10.5" text-anchor="start" fill="#fff" font-weight="bold" font-style="normal" stroke="#fff" stroke-width="0.2">Điện và các sản</text>
<text transform="translate(22.5,171.3) scale(1.05,1)" x="0" y="0" font-size="10.5" text-anchor="start" fill="none" stroke="#00103F" stroke-opacity="0.55" stroke-width="1.4" stroke-linejoin="round" font-weight="bold" font-style="normal">phẩm điện</text><text transform="translate(22.5,171.3) scale(1.05,1)" x="0" y="0" font-size="10.5" text-anchor="start" fill="#fff" font-weight="bold" font-style="normal" stroke="#fff" stroke-width="0.2">phẩm điện</text>
<rect x="13.5" y="183.3" width="6" height="6" fill="#00AEEF"/>
<text transform="translate(22.5,189.5) scale(1.05,1)" x="0" y="0" font-size="10.5" text-anchor="start" fill="none" stroke="#00103F" stroke-opacity="0.55" stroke-width="1.4" stroke-linejoin="round" font-weight="bold" font-style="normal">Hàng hoá lâu bền</text><text transform="translate(22.5,189.5) scale(1.05,1)" x="0" y="0" font-size="10.5" text-anchor="start" fill="#fff" font-weight="bold" font-style="normal" stroke="#fff" stroke-width="0.2">Hàng hoá lâu bền</text>
<rect x="13.5" y="216.3" width="6" height="6" fill="#00AF50"/>
<text transform="translate(22.5,222.5) scale(1.05,1)" x="0" y="0" font-size="10.5" text-anchor="start" fill="none" stroke="#00103F" stroke-opacity="0.55" stroke-width="1.4" stroke-linejoin="round" font-weight="bold" font-style="normal">Máy móc</text><text transform="translate(22.5,222.5) scale(1.05,1)" x="0" y="0" font-size="10.5" text-anchor="start" fill="#fff" font-weight="bold" font-style="normal" stroke="#fff" stroke-width="0.2">Máy móc</text>
<rect x="13.5" y="248.8" width="6" height="6" fill="#B01F16"/>
<text transform="translate(22.5,255.0) scale(1.05,1)" x="0" y="0" font-size="10.5" text-anchor="start" fill="none" stroke="#00103F" stroke-opacity="0.55" stroke-width="1.4" stroke-linejoin="round" font-weight="bold" font-style="normal">Xây dựng</text><text transform="translate(22.5,255.0) scale(1.05,1)" x="0" y="0" font-size="10.5" text-anchor="start" fill="#fff" font-weight="bold" font-style="normal" stroke="#fff" stroke-width="0.2">Xây dựng</text>
<rect x="13.5" y="282.0" width="6" height="6" fill="#F77B24"/>
<text transform="translate(22.5,288.2) scale(1.05,1)" x="0" y="0" font-size="10.5" text-anchor="start" fill="none" stroke="#00103F" stroke-opacity="0.55" stroke-width="1.4" stroke-linejoin="round" font-weight="bold" font-style="normal">Điện lạnh</text><text transform="translate(22.5,288.2) scale(1.05,1)" x="0" y="0" font-size="10.5" text-anchor="start" fill="#fff" font-weight="bold" font-style="normal" stroke="#fff" stroke-width="0.2">Điện lạnh</text>
<rect x="13.5" y="315.8" width="6" height="6" fill="#0A2CFF"/>
<text transform="translate(22.5,322.0) scale(1.05,1)" x="0" y="0" font-size="10.5" text-anchor="start" fill="none" stroke="#00103F" stroke-opacity="0.55" stroke-width="1.4" stroke-linejoin="round" font-weight="bold" font-style="normal">Phương tiện giao</text><text transform="translate(22.5,322.0) scale(1.05,1)" x="0" y="0" font-size="10.5" text-anchor="start" fill="#fff" font-weight="bold" font-style="normal" stroke="#fff" stroke-width="0.2">Phương tiện giao</text>
<text transform="translate(22.5,335.8) scale(1.05,1)" x="0" y="0" font-size="10.5" text-anchor="start" fill="none" stroke="#00103F" stroke-opacity="0.55" stroke-width="1.4" stroke-linejoin="round" font-weight="bold" font-style="normal">thông</text><text transform="translate(22.5,335.8) scale(1.05,1)" x="0" y="0" font-size="10.5" text-anchor="start" fill="#fff" font-weight="bold" font-style="normal" stroke="#fff" stroke-width="0.2">thông</text>
<rect x="13.5" y="348.2" width="6" height="6" fill="#5116B4"/>
<text transform="translate(22.5,354.4) scale(1.05,1)" x="0" y="0" font-size="10.5" text-anchor="start" fill="none" stroke="#00103F" stroke-opacity="0.55" stroke-width="1.4" stroke-linejoin="round" font-weight="bold" font-style="normal">Ngành khác</text><text transform="translate(22.5,354.4) scale(1.05,1)" x="0" y="0" font-size="10.5" text-anchor="start" fill="#fff" font-weight="bold" font-style="normal" stroke="#fff" stroke-width="0.2">Ngành khác</text>
<rect x="656.3" y="150.8" width="6" height="6" fill="#FBBD26"/>
<text transform="translate(664.8,157.0) scale(1.05,1)" x="0" y="0" font-size="10.5" text-anchor="start" fill="none" stroke="#00103F" stroke-opacity="0.55" stroke-width="1.4" stroke-linejoin="round" font-weight="bold" font-style="normal">Ngành xây dựng</text><text transform="translate(664.8,157.0) scale(1.05,1)" x="0" y="0" font-size="10.5" text-anchor="start" fill="#fff" font-weight="bold" font-style="normal" stroke="#fff" stroke-width="0.2">Ngành xây dựng</text>
<rect x="656.3" y="193.8" width="6" height="6" fill="#00AEEF"/>
<text transform="translate(664.8,200.0) scale(1.05,1)" x="0" y="0" font-size="10.5" text-anchor="start" fill="none" stroke="#00103F" stroke-opacity="0.55" stroke-width="1.4" stroke-linejoin="round" font-weight="bold" font-style="normal">Điện và các sản</text><text transform="translate(664.8,200.0) scale(1.05,1)" x="0" y="0" font-size="10.5" text-anchor="start" fill="#fff" font-weight="bold" font-style="normal" stroke="#fff" stroke-width="0.2">Điện và các sản</text>
<text transform="translate(664.8,213.8) scale(1.05,1)" x="0" y="0" font-size="10.5" text-anchor="start" fill="none" stroke="#00103F" stroke-opacity="0.55" stroke-width="1.4" stroke-linejoin="round" font-weight="bold" font-style="normal">phẩm điện</text><text transform="translate(664.8,213.8) scale(1.05,1)" x="0" y="0" font-size="10.5" text-anchor="start" fill="#fff" font-weight="bold" font-style="normal" stroke="#fff" stroke-width="0.2">phẩm điện</text>
<rect x="656.3" y="238.0" width="6" height="6" fill="#B01F16"/>
<text transform="translate(664.8,244.2) scale(1.05,1)" x="0" y="0" font-size="10.5" text-anchor="start" fill="none" stroke="#00103F" stroke-opacity="0.55" stroke-width="1.4" stroke-linejoin="round" font-weight="bold" font-style="normal">Phương tiện giao</text><text transform="translate(664.8,244.2) scale(1.05,1)" x="0" y="0" font-size="10.5" text-anchor="start" fill="#fff" font-weight="bold" font-style="normal" stroke="#fff" stroke-width="0.2">Phương tiện giao</text>
<text transform="translate(664.8,258.0) scale(1.05,1)" x="0" y="0" font-size="10.5" text-anchor="start" fill="none" stroke="#00103F" stroke-opacity="0.55" stroke-width="1.4" stroke-linejoin="round" font-weight="bold" font-style="normal">thông</text><text transform="translate(664.8,258.0) scale(1.05,1)" x="0" y="0" font-size="10.5" text-anchor="start" fill="#fff" font-weight="bold" font-style="normal" stroke="#fff" stroke-width="0.2">thông</text>
<rect x="656.3" y="281.1" width="6" height="6" fill="#5116B4"/>
<text transform="translate(664.8,287.3) scale(1.05,1)" x="0" y="0" font-size="10.5" text-anchor="start" fill="none" stroke="#00103F" stroke-opacity="0.55" stroke-width="1.4" stroke-linejoin="round" font-weight="bold" font-style="normal">Máy móc và thiết</text><text transform="translate(664.8,287.3) scale(1.05,1)" x="0" y="0" font-size="10.5" text-anchor="start" fill="#fff" font-weight="bold" font-style="normal" stroke="#fff" stroke-width="0.2">Máy móc và thiết</text>
<text transform="translate(664.8,301.1) scale(1.05,1)" x="0" y="0" font-size="10.5" text-anchor="start" fill="none" stroke="#00103F" stroke-opacity="0.55" stroke-width="1.4" stroke-linejoin="round" font-weight="bold" font-style="normal">bị công nghệ</text><text transform="translate(664.8,301.1) scale(1.05,1)" x="0" y="0" font-size="10.5" text-anchor="start" fill="#fff" font-weight="bold" font-style="normal" stroke="#fff" stroke-width="0.2">bị công nghệ</text>
<rect x="656.3" y="323.8" width="6" height="6" fill="#0A2CFF"/>
<text transform="translate(664.8,330.0) scale(1.05,1)" x="0" y="0" font-size="10.5" text-anchor="start" fill="none" stroke="#00103F" stroke-opacity="0.55" stroke-width="1.4" stroke-linejoin="round" font-weight="bold" font-style="normal">Ngành khác</text><text transform="translate(664.8,330.0) scale(1.05,1)" x="0" y="0" font-size="10.5" text-anchor="start" fill="#fff" font-weight="bold" font-style="normal" stroke="#fff" stroke-width="0.2">Ngành khác</text>
<text transform="translate(501.5,421.7) scale(1.013,1)" x="0" y="0" font-size="11.1" text-anchor="start" fill="#E6EAF2" font-weight="bold" font-style="italic" >Nguồn: Sở Giao dịch Hàng hóa Việt Nam (MXV)</text>
</svg>
</body></html>
